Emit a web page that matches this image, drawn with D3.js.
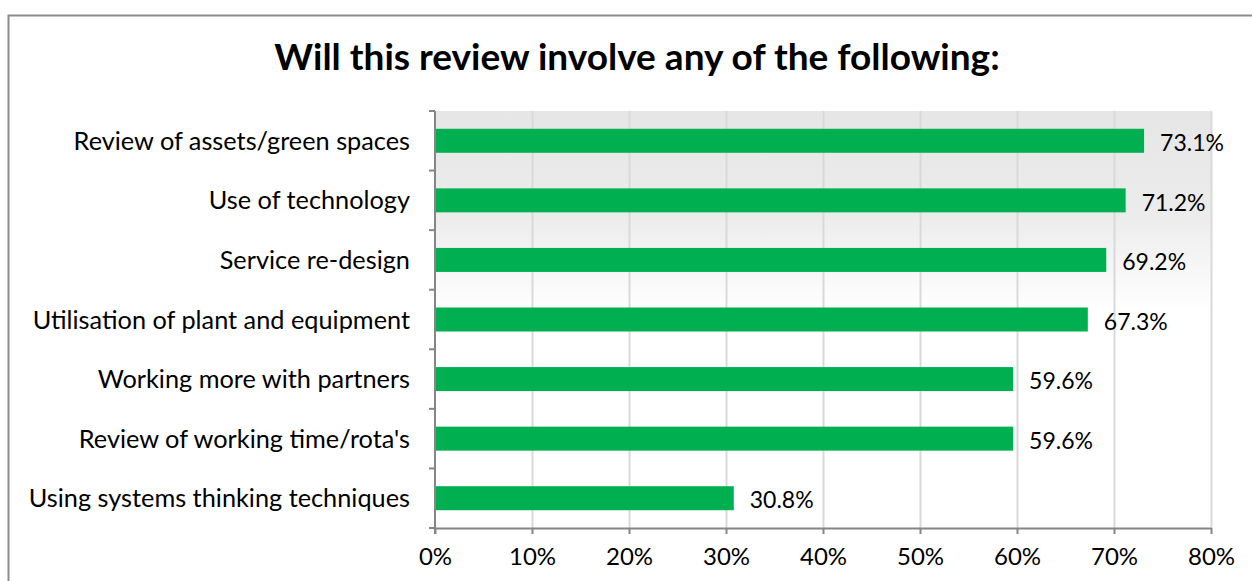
<!DOCTYPE html>
<html>
<head>
<meta charset="utf-8">
<script src="https://cdn.jsdelivr.net/npm/d3@7"></script>
<style>
  html, body { margin: 0; padding: 0; background: #fff; }
  svg { display: block; }
  text { font-family: Lato, "Open Sans", sans-serif; }
</style>
</head>
<body>
<svg id="chart" width="1252" height="581"></svg>
<script>
// Survey responses: share of reviews involving each item
const categories = [
  "Review of assets/green spaces",
  "Use of technology",
  "Service re-design",
  "Utilisation of plant and equipment",
  "Working more with partners",
  "Review of working time/rota's",
  "Using systems thinking techniques"
];
const values = [73.1, 71.2, 69.2, 67.3, 59.6, 59.6, 30.8];
const xTicks = [0, 10, 20, 30, 40, 50, 60, 70, 80];
const title = "Will this review involve any of the following:";

const svg = d3.select("#chart");
const W = 1252, H = 581;
const plot = { left: 435, right: 1211, top: 111, bottom: 528 };
const FONT = "Lato, 'Open Sans', sans-serif";

// Outer chart frame (runs past the right and bottom edges)
svg.append("path")
  .attr("d", `M8.5,${H + 2} L8.5,15.5 L${W + 2},15.5`)
  .attr("fill", "none")
  .attr("stroke", "#8c8c8c")
  .attr("stroke-width", 2);

// Plot background gradient
const defs = svg.append("defs");
const grad = defs.append("linearGradient")
  .attr("id", "plotBg").attr("x1", 0).attr("y1", 0).attr("x2", 0).attr("y2", 1);
grad.append("stop").attr("offset", "0%").attr("stop-color", "#e6e6e6");
grad.append("stop").attr("offset", "25%").attr("stop-color", "#ececec");
grad.append("stop").attr("offset", "48%").attr("stop-color", "#ffffff");
grad.append("stop").attr("offset", "100%").attr("stop-color", "#ffffff");

svg.append("rect")
  .attr("x", plot.left).attr("y", plot.top)
  .attr("width", plot.right - plot.left).attr("height", plot.bottom - plot.top)
  .attr("fill", "url(#plotBg)");

const x = d3.scaleLinear().domain([0, 80]).range([plot.left, plot.right]);
const y = d3.scaleBand().domain(categories).range([plot.top, plot.bottom]).paddingInner(0).paddingOuter(0);
const barH = 24;

// Vertical gridlines
svg.append("g").selectAll("line")
  .data(xTicks.filter(t => t > 0))
  .join("line")
  .attr("x1", d => Math.round(x(d)) + 0.5).attr("x2", d => Math.round(x(d)) + 0.5)
  .attr("y1", plot.top).attr("y2", plot.bottom)
  .attr("stroke", "#d9d9d9").attr("stroke-width", 2);

// Bars
svg.append("g").selectAll("rect")
  .data(values)
  .join("rect")
  .attr("x", x(0))
  .attr("y", (d, i) => y(categories[i]) + y.bandwidth() / 2 - barH / 2)
  .attr("width", d => x(d) - x(0))
  .attr("height", barH)
  .attr("fill", "#00b050");

// Value labels
svg.append("g").selectAll("text")
  .data(values)
  .join("text")
  .attr("x", d => x(d) + 16)
  .attr("y", (d, i) => y(categories[i]) + y.bandwidth() / 2 + 2)
  .attr("dy", "0.36em")
  .attr("font-size", 23)
  .attr("fill", "#000")
  .text(d => d.toFixed(1) + "%");

// X axis
const xAxis = svg.append("g")
  .attr("transform", `translate(0,${plot.bottom})`)
  .call(d3.axisBottom(x).tickValues(xTicks).tickFormat(d => d + "%").tickSize(6).tickSizeOuter(0));
xAxis.select(".domain").attr("stroke", "#868686").attr("stroke-width", 2);
xAxis.selectAll(".tick line").attr("stroke", "#868686").attr("stroke-width", 2);
xAxis.selectAll(".tick text")
  .attr("font-size", 24).attr("fill", "#000").attr("dy", "1.15em")
  .style("font-family", FONT);

// Y axis: ticks sit at category boundaries
const yAxisG = svg.append("g");
yAxisG.append("line")
  .attr("x1", plot.left).attr("x2", plot.left)
  .attr("y1", plot.top).attr("y2", plot.bottom + 6)
  .attr("stroke", "#868686").attr("stroke-width", 2);
const boundaries = categories.map(c => y(c)).concat([plot.bottom]);
yAxisG.selectAll("line.tk")
  .data(boundaries)
  .join("line").attr("class", "tk")
  .attr("x1", plot.left - 6).attr("x2", plot.left)
  .attr("y1", d => d).attr("y2", d => d)
  .attr("stroke", "#868686").attr("stroke-width", 2);

// Category labels
svg.append("g").selectAll("text")
  .data(categories)
  .join("text")
  .attr("x", plot.left - 25)
  .attr("y", d => y(d) + y.bandwidth() / 2)
  .attr("dy", "0.36em")
  .attr("text-anchor", "end")
  .attr("font-size", 25.3)
  .attr("fill", "#000")
  .text(d => d);

// Title
svg.append("text")
  .attr("x", 637).attr("y", 70)
  .attr("text-anchor", "middle")
  .attr("font-size", 37)
  .attr("font-weight", "bold")
  .attr("fill", "#000")
  .text(title);
</script>
</body>
</html>
